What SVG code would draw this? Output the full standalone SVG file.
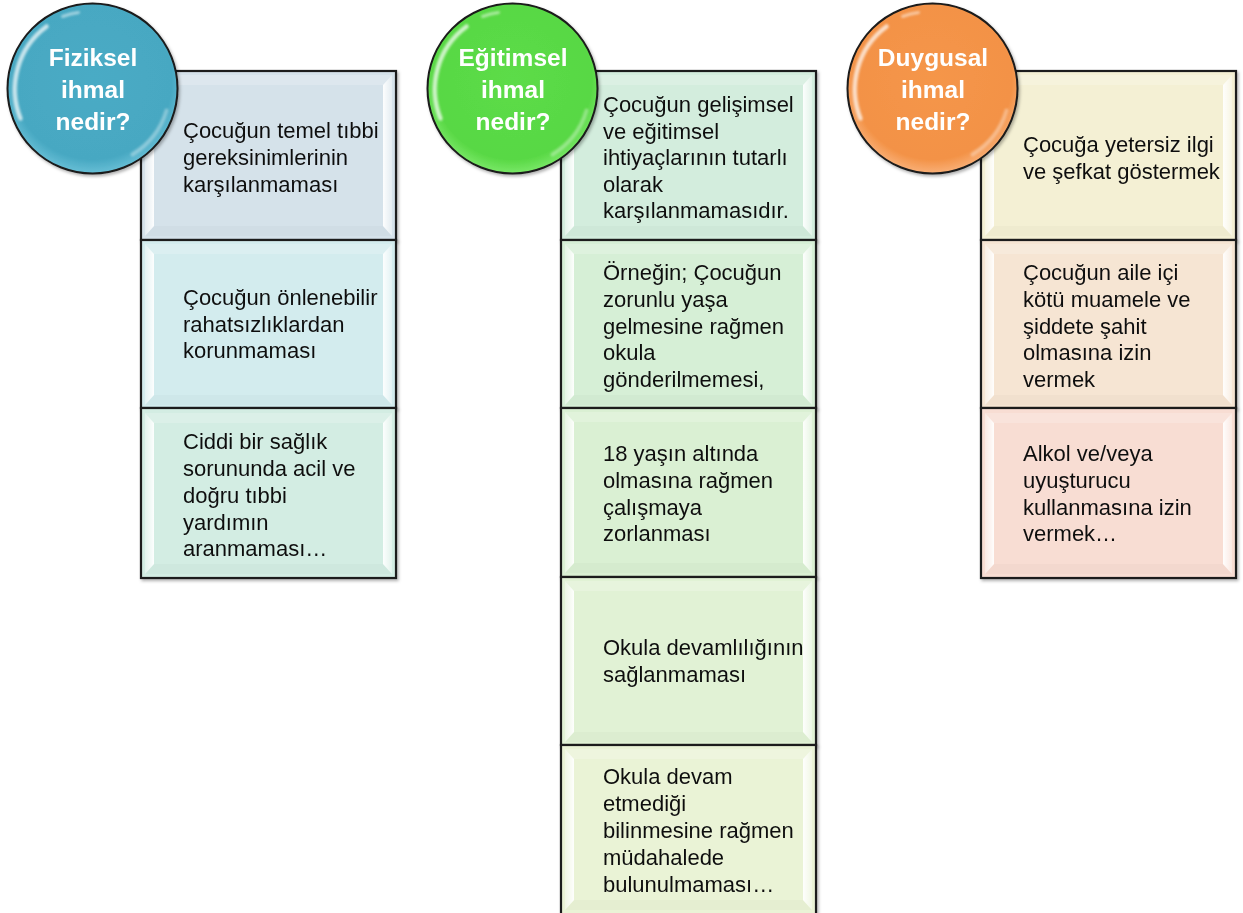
<svg xmlns="http://www.w3.org/2000/svg" width="1243" height="913" viewBox="0 0 1243 913">
<style>
.box{stroke:#1a1a1a;stroke-width:2.2;}
.t{font-family:"Liberation Sans",Arial,sans-serif;font-size:22px;fill:#111;}
.h{font-family:"Liberation Sans",Arial,sans-serif;font-size:24.5px;font-weight:bold;fill:#fff;text-anchor:middle;}
.ring{stroke:#1a1a1a;stroke-width:2;}
.hl{fill:none;stroke:#fff;stroke-linecap:round;}
</style>
<defs>
  <linearGradient id="bl" x1="0" y1="0" x2="1" y2="0">
    <stop offset="0" stop-color="#fff" stop-opacity="0.35"/>
    <stop offset="1" stop-color="#fff" stop-opacity="0.95"/>
  </linearGradient>
  <linearGradient id="br" x1="0" y1="0" x2="1" y2="0">
    <stop offset="0" stop-color="#fff" stop-opacity="0.95"/>
    <stop offset="1" stop-color="#fff" stop-opacity="0.35"/>
  </linearGradient>
  <filter id="sh" x="-20%" y="-20%" width="140%" height="140%">
    <feDropShadow dx="1.5" dy="2" stdDeviation="1.5" flood-color="#000" flood-opacity="0.3"/>
  </filter>
  <filter id="soft" x="-20%" y="-20%" width="140%" height="140%">
    <feGaussianBlur stdDeviation="1.2"/>
  </filter>
  <g id="bv">
    <polygon points="4,4 251,4 242,14 13,14" fill="#fff" opacity="0.2"/>
    <polygon points="4,165 251,165 242,155 13,155" fill="#000" opacity="0.02"/>
    <polygon points="4,4 13,14 13,155 4,165" fill="url(#bl)"/>
    <polygon points="251,4 242,14 242,155 251,165" fill="url(#br)"/>
  </g>
  <radialGradient id="gB" cx="0.5" cy="0.45" r="0.55">
    <stop offset="0" stop-color="#4aabc5"/>
    <stop offset="0.85" stop-color="#47a8c2"/>
    <stop offset="1" stop-color="#68bfd6"/>
  </radialGradient>
  <radialGradient id="gG" cx="0.5" cy="0.45" r="0.55">
    <stop offset="0" stop-color="#5cdc48"/>
    <stop offset="0.85" stop-color="#58d844"/>
    <stop offset="1" stop-color="#7ae868"/>
  </radialGradient>
  <radialGradient id="gO" cx="0.5" cy="0.45" r="0.55">
    <stop offset="0" stop-color="#f5964a"/>
    <stop offset="0.85" stop-color="#f39246"/>
    <stop offset="1" stop-color="#f9b078"/>
  </radialGradient>
  <g id="gloss" filter="url(#soft)">
    <path class="hl" d="M -72 30 A 78 78 0 0 1 -46 -62" stroke-width="4.5" opacity="0.7"/>
    <path class="hl" d="M -30 -72 A 78 78 0 0 1 -14 -76" stroke-width="3" opacity="0.5"/>
    <path class="hl" d="M 74 22 A 78 78 0 0 1 40 66" stroke-width="4" opacity="0.35"/>
  </g>
</defs>

<!-- Column 1: Fiziksel -->
<g id="fiziksel-boxes">
  <g id="f1" filter="url(#sh)">
    <rect class="box" x="141" y="71" width="255" height="169" fill="#d5e2ea"/>
    <use href="#bv" x="141" y="71"/>
    <text class="t"><tspan x="183" y="138">Çocuğun temel tıbbi</tspan><tspan x="183" y="165">gereksinimlerinin</tspan><tspan x="183" y="192">karşılanmaması</tspan></text>
  </g>
  <g id="f2" filter="url(#sh)">
    <rect class="box" x="141" y="240" width="255" height="168" fill="#d3ecee"/>
    <use href="#bv" x="141" y="240"/>
    <text class="t"><tspan x="183" y="305">Çocuğun önlenebilir</tspan><tspan x="183" y="332">rahatsızlıklardan</tspan><tspan x="183" y="358">korunmaması</tspan></text>
  </g>
  <g id="f3" filter="url(#sh)">
    <rect class="box" x="141" y="408" width="255" height="170" fill="#d3ede3"/>
    <use href="#bv" x="141" y="409"/>
    <text class="t"><tspan x="183" y="449">Ciddi bir sağlık</tspan><tspan x="183" y="476">sorununda acil ve</tspan><tspan x="183" y="503">doğru tıbbi</tspan><tspan x="183" y="530">yardımın</tspan><tspan x="183" y="556">aranmaması…</tspan></text>
  </g>
</g>

<!-- Column 2: Eğitimsel -->
<g id="egitimsel-boxes">
  <g id="e1" filter="url(#sh)">
    <rect class="box" x="561" y="71" width="255" height="169" fill="#d3eddd"/>
    <use href="#bv" x="561" y="71"/>
    <text class="t"><tspan x="603" y="112">Çocuğun gelişimsel</tspan><tspan x="603" y="138.5">ve eğitimsel</tspan><tspan x="603" y="165">ihtiyaçlarının tutarlı</tspan><tspan x="603" y="191.5">olarak</tspan><tspan x="603" y="218">karşılanmamasıdır.</tspan></text>
  </g>
  <g id="e2" filter="url(#sh)">
    <rect class="box" x="561" y="240" width="255" height="168" fill="#d6efd6"/>
    <use href="#bv" x="561" y="240"/>
    <text class="t"><tspan x="603" y="280">Örneğin; Çocuğun</tspan><tspan x="603" y="307">zorunlu yaşa</tspan><tspan x="603" y="333.5">gelmesine rağmen</tspan><tspan x="603" y="360">okula</tspan><tspan x="603" y="387">gönderilmemesi,</tspan></text>
  </g>
  <g id="e3" filter="url(#sh)">
    <rect class="box" x="561" y="408" width="255" height="169" fill="#daf0d3"/>
    <use href="#bv" x="561" y="408"/>
    <text class="t"><tspan x="603" y="461">18 yaşın altında</tspan><tspan x="603" y="488">olmasına rağmen</tspan><tspan x="603" y="515">çalışmaya</tspan><tspan x="603" y="541">zorlanması</tspan></text>
  </g>
  <g id="e4" filter="url(#sh)">
    <rect class="box" x="561" y="577" width="255" height="168" fill="#e1f2d5"/>
    <use href="#bv" x="561" y="577"/>
    <text class="t"><tspan x="603" y="655">Okula devamlılığının</tspan><tspan x="603" y="682">sağlanmaması</tspan></text>
  </g>
  <g id="e5" filter="url(#sh)">
    <rect class="box" x="561" y="745" width="255" height="172" fill="#eaf3d6"/>
    <use href="#bv" x="561" y="745"/>
    <text class="t"><tspan x="603" y="784">Okula devam</tspan><tspan x="603" y="811">etmediği</tspan><tspan x="603" y="838">bilinmesine rağmen</tspan><tspan x="603" y="865">müdahalede</tspan><tspan x="603" y="892">bulunulmaması…</tspan></text>
  </g>
</g>

<!-- Column 3: Duygusal -->
<g id="duygusal-boxes">
  <g id="d1" filter="url(#sh)">
    <rect class="box" x="981" y="71" width="255" height="169" fill="#f4f0d4"/>
    <use href="#bv" x="981" y="71"/>
    <text class="t"><tspan x="1023" y="152">Çocuğa yetersiz ilgi</tspan><tspan x="1023" y="178.5">ve şefkat göstermek</tspan></text>
  </g>
  <g id="d2" filter="url(#sh)">
    <rect class="box" x="981" y="240" width="255" height="168" fill="#f6e5d3"/>
    <use href="#bv" x="981" y="240"/>
    <text class="t"><tspan x="1023" y="280">Çocuğun aile içi</tspan><tspan x="1023" y="307">kötü muamele ve</tspan><tspan x="1023" y="333.5">şiddete şahit</tspan><tspan x="1023" y="360">olmasına izin</tspan><tspan x="1023" y="387">vermek</tspan></text>
  </g>
  <g id="d3" filter="url(#sh)">
    <rect class="box" x="981" y="408" width="255" height="170" fill="#f8ddd3"/>
    <use href="#bv" x="981" y="409"/>
    <text class="t"><tspan x="1023" y="461">Alkol ve/veya</tspan><tspan x="1023" y="488">uyuşturucu</tspan><tspan x="1023" y="515">kullanmasına izin</tspan><tspan x="1023" y="541">vermek…</tspan></text>
  </g>
</g>

<!-- Header circles -->
<g id="fiziksel-header" filter="url(#sh)">
  <circle class="ring" cx="92.5" cy="88.5" r="85" fill="url(#gB)"/>
  <use href="#gloss" x="92.5" y="88.5"/>
  <text class="h"><tspan x="93" y="66">Fiziksel</tspan><tspan x="93" y="98">ihmal</tspan><tspan x="93" y="130">nedir?</tspan></text>
</g>
<g id="egitimsel-header" filter="url(#sh)">
  <circle class="ring" cx="512.5" cy="88.5" r="85" fill="url(#gG)"/>
  <use href="#gloss" x="512.5" y="88.5"/>
  <text class="h"><tspan x="513" y="66">Eğitimsel</tspan><tspan x="513" y="98">ihmal</tspan><tspan x="513" y="130">nedir?</tspan></text>
</g>
<g id="duygusal-header" filter="url(#sh)">
  <circle class="ring" cx="932.5" cy="88.5" r="85" fill="url(#gO)"/>
  <use href="#gloss" x="932.5" y="88.5"/>
  <text class="h"><tspan x="933" y="66">Duygusal</tspan><tspan x="933" y="98">ihmal</tspan><tspan x="933" y="130">nedir?</tspan></text>
</g>

<g id="connectors"></g>
</svg>
